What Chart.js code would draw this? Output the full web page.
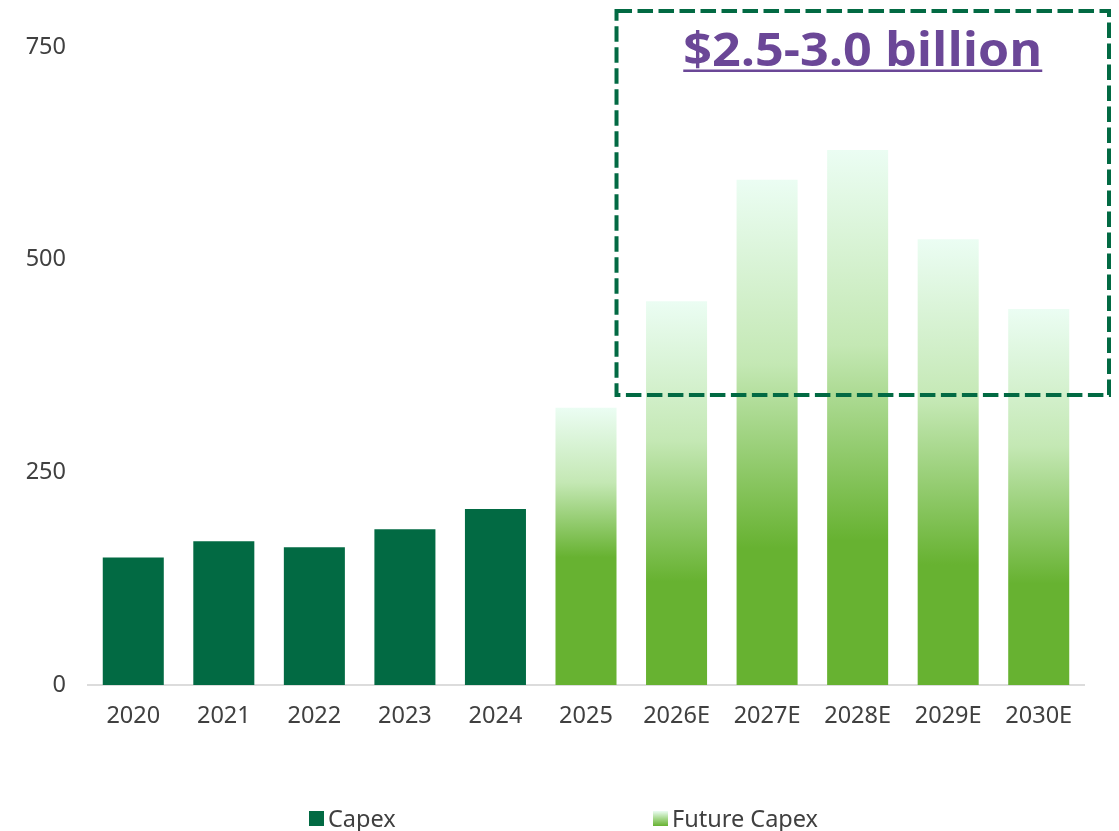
<!DOCTYPE html>
<html>
<head>
<meta charset="utf-8">
<script src="https://cdn.jsdelivr.net/npm/chart.js@4"></script>
<style>
  html, body { margin: 0; padding: 0; background: #ffffff; }
  #wrap { position: relative; width: 1119px; height: 831px; }
  #chart { position: absolute; left: 0; top: 0; }
  .legend-item { position: absolute; top: 805px; height: 26px; display: flex; align-items: center;
    font-family: "Noto Sans", sans-serif; font-size: 23.5px; color: #404040; }
  .swatch { width: 15px; height: 15px; margin-right: 4px; }
</style>
</head>
<body>
<div id="wrap">
  <canvas id="chart" width="1119" height="831"></canvas>
  <div class="legend-item" style="left:309px;"><span class="swatch" style="background:#026a43"></span>Capex</div>
  <div class="legend-item" style="left:653px;"><span class="swatch" style="background:linear-gradient(#ebfdf3, #a6d88c 50%, #67b231)"></span>Future Capex</div>
</div>
<script>
// Capital expenditure by year (millions), actuals then estimates
const categories = ['2020', '2021', '2022', '2023', '2024', '2025', '2026E', '2027E', '2028E', '2029E', '2030E'];
const capex       = [150, 169, 162, 183, 207, null, null, null, null, null, null];
const futureCapex = [null, null, null, null, null, 326, 451, 594, 629, 524, 442];
const yTicks = [0, 250, 500, 750];
const rangeLabel = '$2.5-3.0 billion';

const DARK_GREEN = '#026a43';
const LIGHT_GREEN = '#67b231';
const FONT = '"Noto Sans", sans-serif';

// where each projected bar turns solid green (fraction of bar height from the top)
const solidFrom = [0, 0, 0, 0, 0, 0.54, 0.73, 0.73, 0.73, 0.73, 0.73];

function futureFill(ctx) {
  const chart = ctx.chart;
  const yScale = chart.scales.y;
  const v = ctx.raw;
  if (!yScale || v == null || !chart.chartArea) return LIGHT_GREEN;
  const top = yScale.getPixelForValue(v);
  const bottom = yScale.getPixelForValue(0);
  const s = solidFrom[ctx.dataIndex] || 0.73;
  const g = chart.ctx.createLinearGradient(0, top, 0, bottom);
  g.addColorStop(0, '#ebfdf3');
  g.addColorStop(s * 0.5, '#c4e8b4');
  g.addColorStop(s, LIGHT_GREEN);
  g.addColorStop(1, LIGHT_GREEN);
  return g;
}

// dashed frame around the projected peak years, with the range headline
const rangeBox = {
  id: 'rangeBox',
  afterDatasetsDraw(chart) {
    const { ctx, scales: { y } } = chart;
    const meta = chart.getDatasetMeta(1);
    const bar2025 = meta.data[5];
    const left = bar2025.x + bar2025.width / 2;
    const right = chart.width - 10;
    const top = 11;
    const bottom = y.getPixelForValue(341);
    ctx.save();
    ctx.strokeStyle = DARK_GREEN;
    ctx.lineWidth = 4;
    ctx.setLineDash([15.5, 5.5]);
    ctx.strokeRect(left, top, right - left, bottom - top);
    ctx.setLineDash([]);
    ctx.fillStyle = '#6b4797';
    ctx.font = 'bold 46px "Open Sans", "Noto Sans", sans-serif';
    ctx.textBaseline = 'alphabetic';
    ctx.textAlign = 'left';
    const cx = (left + right) / 2;
    const natural = ctx.measureText(rangeLabel).width;
    const target = 359;
    const sx = target / natural;
    ctx.translate(cx - target / 2, 66);
    ctx.scale(sx, 1);
    ctx.fillText(rangeLabel, 0, 0);
    ctx.setTransform(1, 0, 0, 1, 0, 0);
    ctx.fillRect(cx - target / 2, 69.5, target, 2.5);
    ctx.restore();
  }
};

new Chart(document.getElementById('chart'), {
  type: 'bar',
  data: {
    labels: categories,
    datasets: [
      { label: 'Capex', data: capex, backgroundColor: DARK_GREEN, barPercentage: 0.674, categoryPercentage: 1 },
      { label: 'Future Capex', data: futureCapex, backgroundColor: futureFill, barPercentage: 0.674, categoryPercentage: 1 }
    ]
  },
  options: {
    responsive: false,
    animation: false,
    layout: { padding: { top: 47, right: 35, left: 0, bottom: 0 } },
    plugins: { legend: { display: false }, tooltip: { enabled: false } },
    scales: {
      x: {
        stacked: true,
        grid: { display: false, drawTicks: false },
        border: { display: true, color: '#dcdcdc', width: 2 },
        ticks: { font: { family: FONT, size: 23.5 }, color: '#404040', padding: 17 },
        afterFit(scale) { scale.height = 146; }
      },
      y: {
        stacked: true,
        min: 0,
        max: 750,
        afterBuildTicks(scale) { scale.ticks = yTicks.map(v => ({ value: v })); },
        grid: { display: false, drawTicks: false },
        border: { display: false },
        ticks: { font: { family: FONT, size: 23.5 }, color: '#404040', padding: 22 },
        afterFit(scale) { scale.width = 88; }
      }
    }
  },
  plugins: [rangeBox]
});
</script>
</body>
</html>
